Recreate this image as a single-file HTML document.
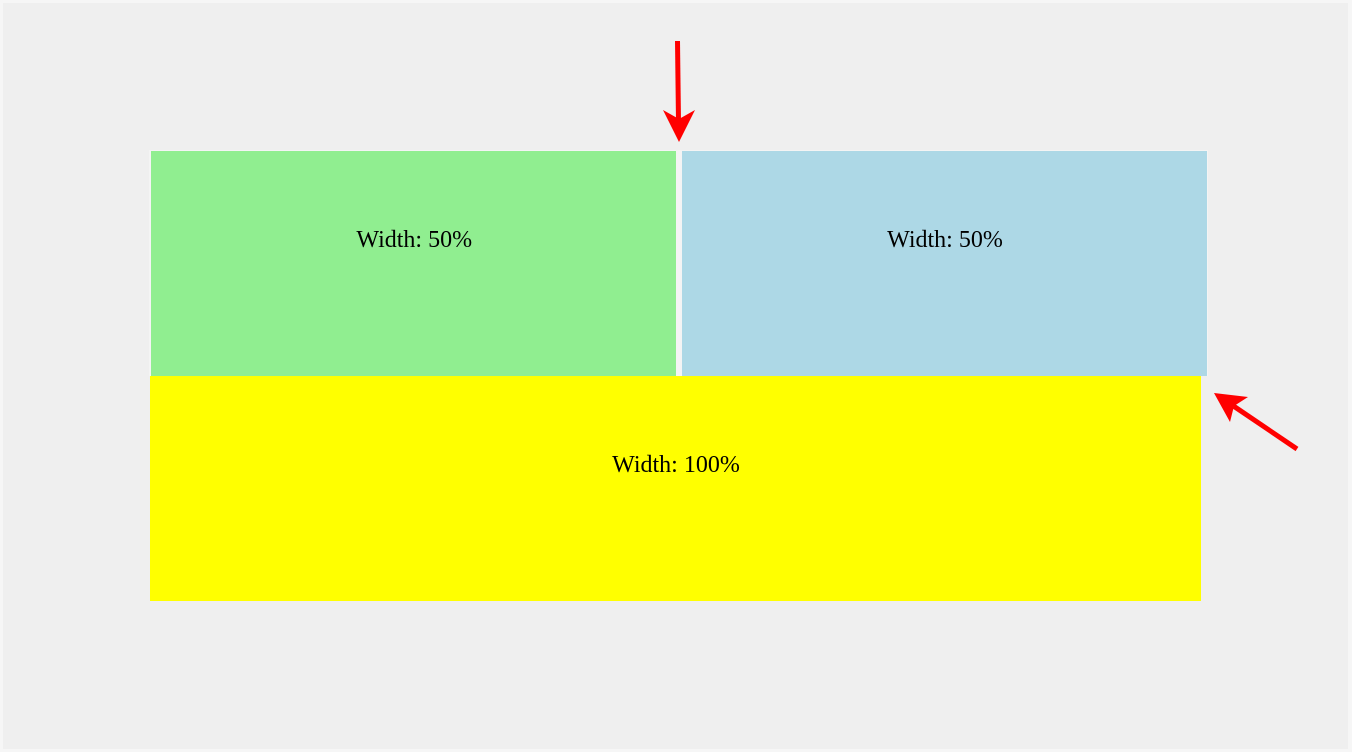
<!DOCTYPE html>
<html lang="en">
<head>
<meta charset="utf-8">
<title>Width layout</title>
<style>
html,body{margin:0;padding:0;width:1352px;height:752px;overflow:hidden;background:#f6f6f6}
#page{position:absolute;left:3px;top:3px;width:1345px;height:746px;background:#efefef}
.box{position:absolute;display:flex;align-items:center;justify-content:center;color:#000;font-family:"Liberation Serif",serif;font-size:24px;line-height:1;white-space:nowrap}
.outline{position:absolute;background:#f4f4f4}
svg{position:absolute;left:0;top:0}
</style>
</head>
<body>
<div id="page"></div>
<div class="outline" style="left:149px;top:150px;width:1059px;height:226px"></div>
<div class="box" style="left:150.5px;top:151px;width:525.5px;height:225px;background:#90ee90"><span style="position:relative;top:-23.5px;left:1px">Width: 50%</span></div>
<div class="box" style="left:682px;top:151px;width:525px;height:225px;background:#add8e6"><span style="position:relative;top:-23.5px;left:0.5px">Width: 50%</span></div>
<div class="box" style="left:150px;top:376px;width:1051px;height:225px;background:#ffff00"><span style="position:relative;top:-23.5px;left:0.5px">Width: 100%</span></div>
<svg width="1352" height="752" viewBox="0 0 1352 752">
  <g>
    <line x1="677.5" y1="41" x2="678.5" y2="122" stroke="#ff0000" stroke-width="5"/>
    <polygon points="679,142 663,110 679,119 695,110" fill="#ff0000"/>
  </g>
  <g>
    <line x1="1297" y1="449" x2="1232" y2="405" stroke="#ff0000" stroke-width="5"/>
    <polygon points="1214,393 1248,397 1234,406 1230,422" fill="#ff0000"/>
  </g>
</svg>
</body>
</html>
